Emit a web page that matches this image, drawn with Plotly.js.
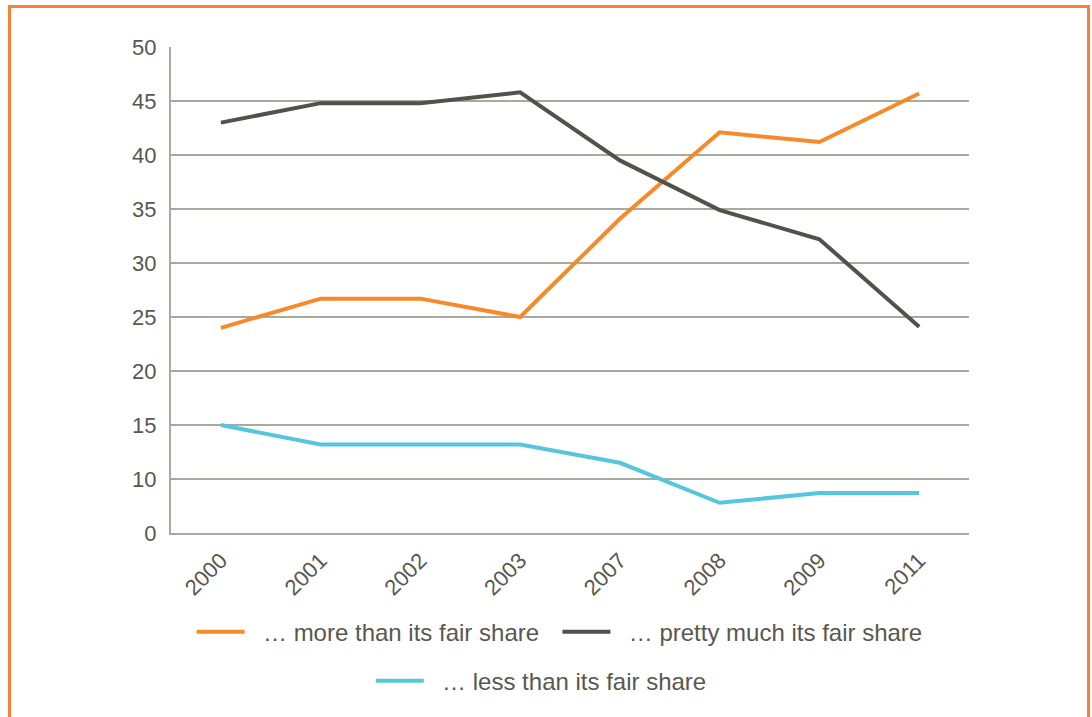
<!DOCTYPE html>
<html>
<head>
<meta charset="utf-8">
<script src="https://cdn.plot.ly/plotly-3.0.1.min.js"></script>
<style>
  html, body { margin: 0; padding: 0; background: #ffffff; }
  #chart { width: 1092px; height: 717px; position: relative; }
  #frame { position: absolute; left: 8px; top: 5px; width: 1076px; height: 740px;
           border: 3px solid #f5813a; pointer-events: none; }
</style>
</head>
<body>
<div id="chart"></div>
<div id="frame"></div>
<script>
const years = ["2000", "2001", "2002", "2003", "2007", "2008", "2009", "2011"];
const moreThanFair = [24, 26.7, 26.7, 25, 34.1, 42.1, 41.2, 45.7];
const prettyMuchFair = [43, 44.8, 44.8, 45.8, 39.5, 34.9, 32.2, 24.1];
const lessThanFair = [15, 13.2, 13.2, 13.2, 11.5, 7.8, 8.7, 8.7];
const yTickVals = [5, 10, 15, 20, 25, 30, 35, 40, 45, 50];
const yTickText = ["0", "10", "15", "20", "25", "30", "35", "40", "45", "50"];
const seriesNames = ["… more than its fair share", "… pretty much its fair share", "… less than its fair share"];

const textColor = "#58584f";
const font = "Liberation Sans, Arial, Helvetica, sans-serif";
const pad = "\u00a0\u00a0";

const traces = [
  { x: years, y: moreThanFair, name: pad + seriesNames[0] + "\u00a0\u00a0", type: "scatter", mode: "lines",
    line: { color: "#f68a28", width: 4 }, legend: "legend" },
  { x: years, y: prettyMuchFair, name: pad + seriesNames[1], type: "scatter", mode: "lines",
    line: { color: "#52524a", width: 4 }, legend: "legend" },
  { x: years, y: lessThanFair, name: pad + seriesNames[2], type: "scatter", mode: "lines",
    line: { color: "#56c6dc", width: 4 }, legend: "legend2" }
];

const layout = {
  width: 1092, height: 717,
  margin: { l: 171, r: 123, t: 47, b: 184 },
  paper_bgcolor: "#ffffff", plot_bgcolor: "#ffffff",
  font: { family: font, color: textColor, size: 22 },
  showlegend: true,
  xaxis: {
    type: "category",
    tickangle: -45,
    tickfont: { size: 22, color: textColor },
    showgrid: false,
    showline: true, linecolor: "#a9a9a0", linewidth: 2,
    ticks: "", zeroline: false,
    ticklabelstandoff: 4,
    range: [-0.5, 7.5]
  },
  yaxis: {
    range: [5, 50],
    tickvals: yTickVals, ticktext: yTickText,
    tickfont: { size: 22, color: textColor },
    showgrid: true, gridcolor: "#a9a9a0", gridwidth: 2,
    showline: true, linecolor: "#a9a9a0", linewidth: 2,
    ticks: "", ticklen: 0, zeroline: false,
    ticklabelstandoff: 8
  },
  legend: {
    orientation: "h", x: 0.487, xanchor: "center", y: -0.204, yanchor: "middle",
    font: { size: 24, color: textColor, family: font },
    itemwidth: 48, tracegroupgap: 0, bgcolor: "rgba(0,0,0,0)"
  },
  legend2: {
    orientation: "h", x: 0.464, xanchor: "center", y: -0.305, yanchor: "middle",
    font: { size: 24, color: textColor, family: font },
    itemwidth: 48, bgcolor: "rgba(0,0,0,0)"
  }
};

Plotly.newPlot("chart", traces, layout, { displayModeBar: false, staticPlot: true });
</script>
</body>
</html>
